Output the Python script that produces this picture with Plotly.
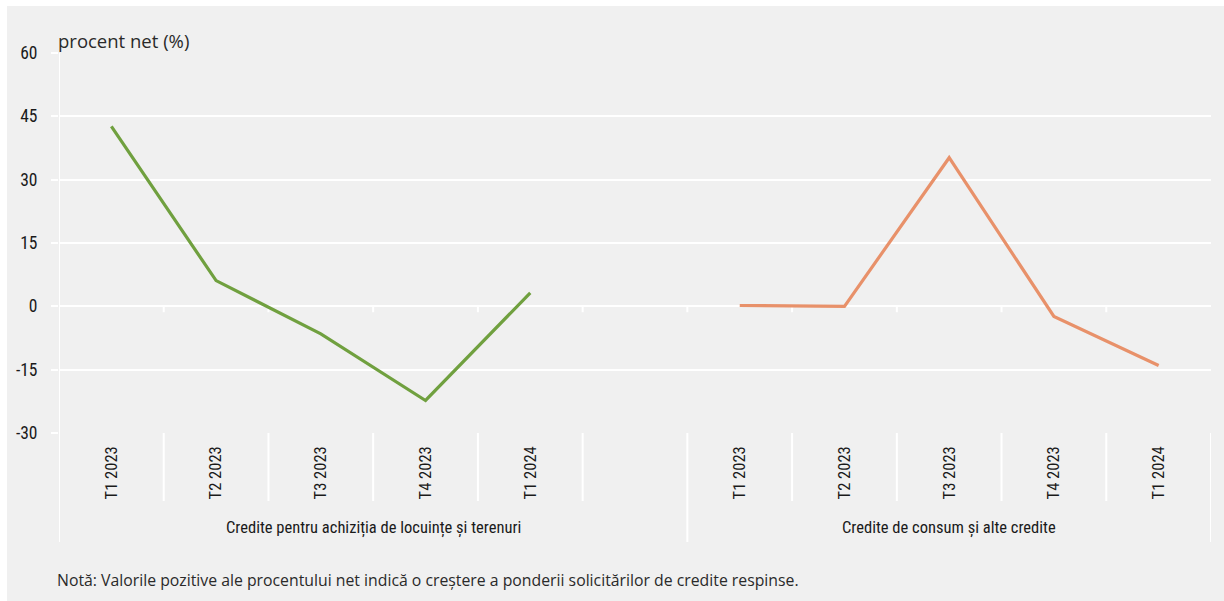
import plotly.graph_objects as go

# Quarterly labels and net-percentage values for the two credit groups
quarters = ["T1 2023", "T2 2023", "T3 2023", "T4 2023", "T1 2024"]
housing = [42.6, 6.1, -6.5, -22.3, 3.2]
consumer = [0.2, 0.0, 35.2, -2.4, -14.0]
group_names = ["Credite pentru achiziția de locuințe și terenuri",
               "Credite de consum și alte credite"]
y_ticks = [-30, -15, 0, 15, 30, 45, 60]
y_tick_text = ["-30", "-15", "0", "15", "30", "45", "60"]

# Slot positions: five quarters, one empty slot, five quarters
x_housing = [i + 0.5 for i in range(5)]
x_consumer = [i + 6.5 for i in range(5)]

BG = "#f0f0f0"
GREEN = "#70a03f"
ORANGE = "#e8916a"
TXT = "#1a1a1a"
COND = "Roboto Condensed, Liberation Sans Narrow, sans-serif"
REG = "Open Sans, Noto Sans, sans-serif"

W, H = 1224, 601
L, R, T, B = 59, 13, 53, 168
pw, ph = W - L - R, H - T - B


def px_x(px):
    return (px - L) / pw


def px_y(py):
    return (H - B - py) / ph


fig = go.Figure()
fig.add_trace(go.Scatter(x=x_housing, y=housing, mode="lines",
                         line=dict(color=GREEN, width=3.2), hoverinfo="skip"))
fig.add_trace(go.Scatter(x=x_consumer, y=consumer, mode="lines",
                         line=dict(color=ORANGE, width=3.2), hoverinfo="skip"))

shapes = []
# grey panel behind the chart
shapes.append(dict(type="rect", xref="paper", yref="paper", layer="below",
                   x0=px_x(7), x1=px_x(W + 5), y0=px_y(H + 5), y1=px_y(6),
                   fillcolor=BG, line=dict(width=0)))
# vertical axis line running into the category area
shapes.append(dict(type="line", xref="x", yref="paper", layer="below",
                   x0=0, x1=0, y0=px_y(542), y1=1,
                   line=dict(color="white", width=2)))
# separators between quarter slots
for k in [1, 2, 3, 4, 5, 7, 8, 9, 10]:
    shapes.append(dict(type="line", xref="x", yref="paper", layer="below",
                       x0=k, x1=k, y0=px_y(501), y1=0,
                       line=dict(color="white", width=2)))
# separators between the two groups
for k in [6, 11]:
    shapes.append(dict(type="line", xref="x", yref="paper", layer="below",
                       x0=k, x1=k, y0=px_y(542), y1=0,
                       line=dict(color="white", width=2)))
# category tick marks on the zero line
for k in range(1, 11):
    shapes.append(dict(type="line", xref="x", yref="y", layer="below",
                       x0=k, x1=k, y0=0, y1=-1.4,
                       line=dict(color="white", width=2)))

annotations = [
    dict(text="procent net (%)", xref="paper", yref="paper",
         x=px_x(56), y=px_y(40), xanchor="left", yanchor="middle",
         showarrow=False, font=dict(family=REG, size=18.5, color="#2a2a2a")),
    dict(text="Notă: Valorile pozitive ale procentului net indică o creștere a ponderii "
              "solicitărilor de credite respinse.",
         xref="paper", yref="paper", x=px_x(55), y=px_y(580),
         xanchor="left", yanchor="middle", showarrow=False,
         font=dict(family=REG, size=15.8, color="#2a2a2a")),
]
for name, xc in zip(group_names, [3, 8.5]):
    annotations.append(dict(text=name, xref="x", yref="paper", x=xc, y=px_y(528),
                            xanchor="center", yanchor="middle", showarrow=False,
                            font=dict(family=COND, size=16.5, color=TXT)))

fig.update_layout(
    width=W, height=H,
    margin=dict(l=L, r=R, t=T, b=B),
    paper_bgcolor="white",
    plot_bgcolor="rgba(0,0,0,0)",
    showlegend=False,
    shapes=shapes,
    annotations=annotations,
    xaxis=dict(range=[0, 11], showgrid=False, zeroline=False, showline=False,
               tickmode="array", tickvals=x_housing + x_consumer,
               ticktext=quarters + quarters, tickangle=-90, ticks="",
               ticklabelstandoff=9,
               tickfont=dict(family=COND, size=16.5, color=TXT)),
    yaxis=dict(range=[-30, 60], tickmode="array",
               tickvals=y_ticks, ticktext=y_tick_text,
               showgrid=True, gridcolor="white", gridwidth=2,
               zeroline=True, zerolinecolor="white", zerolinewidth=2,
               showline=False, ticks="outside", ticklen=7, tickcolor="white",
               tickwidth=2, ticklabelstandoff=10,
               tickfont=dict(family=COND, size=17.5, color=TXT)),
)

fig.write_html("out.html")
